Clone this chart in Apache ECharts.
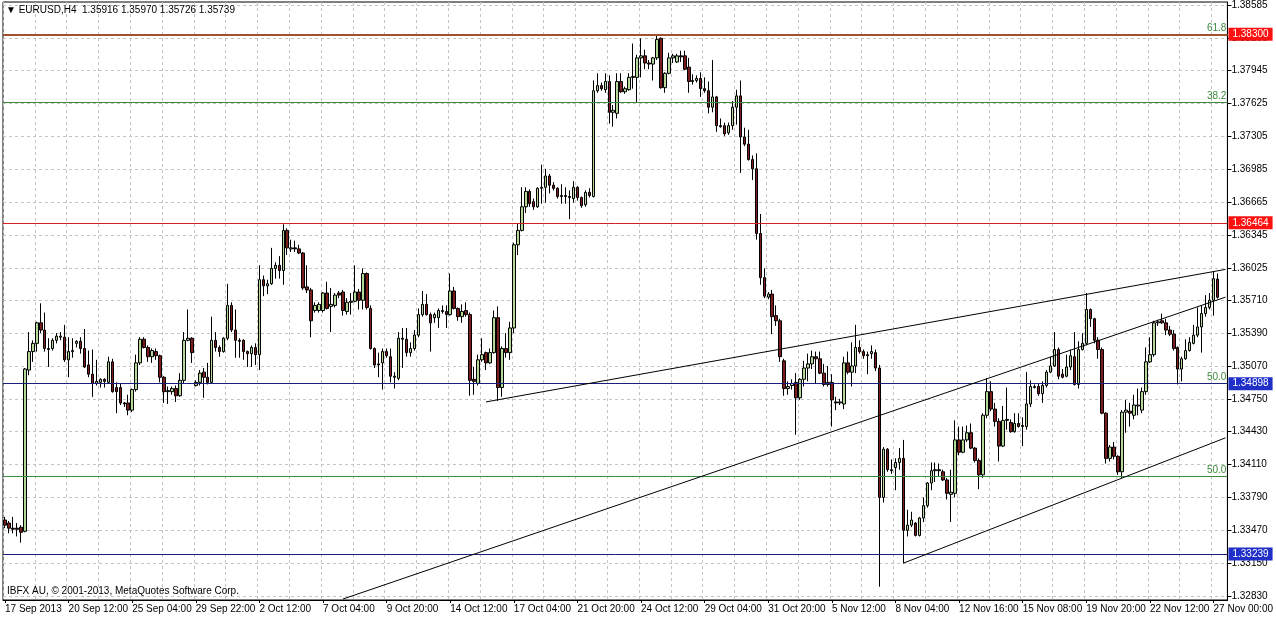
<!DOCTYPE html>
<html>
<head>
<meta charset="utf-8">
<script src="https://cdn.jsdelivr.net/npm/echarts/dist/echarts.min.js"></script>
<style>
html,body{margin:0;padding:0;background:#fff;}
#c{width:1276px;height:619px;}
</style>
</head>
<body>
<div id="c"></div>
<script>
// ---- data (EURUSD H4) ----
const tickLabels = ['17 Sep 2013','20 Sep 12:00','25 Sep 04:00','29 Sep 22:00','2 Oct 12:00','7 Oct 04:00','9 Oct 20:00','14 Oct 12:00','17 Oct 04:00','21 Oct 20:00','24 Oct 12:00','29 Oct 04:00','31 Oct 20:00','5 Nov 12:00','8 Nov 04:00','12 Nov 16:00','15 Nov 08:00','19 Nov 20:00','22 Nov 12:00','27 Nov 00:00'];
const priceTicks = [1.32830,1.33150,1.33470,1.33790,1.34110,1.34430,1.34750,1.35070,1.35390,1.35710,1.36025,1.36345,1.36665,1.36985,1.37305,1.37625,1.37945,1.38265,1.38585];

const opens = [1.3357,1.3354,1.3349,1.3349,1.3350,1.3346,1.3503,1.3521,1.3529,1.3549,1.3542,1.3524,1.3524,1.3532,1.3535,1.3535,1.3513,1.3521,1.3529,1.3531,
1.3524,1.3508,1.3499,1.3490,1.3491,1.3494,1.3491,1.3511,1.3486,1.3486,1.3471,1.3471,1.3464,1.3484,1.3510,1.3533,1.3525,1.3516,1.3521,1.3517,
1.3496,1.3482,1.3482,1.3485,1.3478,1.3493,1.3532,1.3534,1.3488,1.3491,1.3501,1.3496,1.3491,1.3532,1.3525,1.3521,1.3534,1.3566,1.3542,1.3532,
1.3532,1.3521,1.3519,1.3525,1.3518,1.3591,1.3585,1.3587,1.3602,1.3605,1.3600,1.3639,1.3621,1.3622,1.3621,1.3617,1.3584,1.3581,1.3561,1.3561,
1.3561,1.3578,1.3565,1.3566,1.3578,1.3579,1.3560,1.3569,1.3570,1.3579,1.3571,1.3597,1.3563,1.3524,1.3509,1.3510,1.3521,1.3516,1.3497,1.3495,
1.3534,1.3533,1.3520,1.3524,1.3537,1.3557,1.3567,1.3557,1.3554,1.3554,1.3561,1.3560,1.3557,1.3580,1.3563,1.3555,1.3561,1.3557,1.3494,1.3490,
1.3513,1.3520,1.3510,1.3520,1.3554,1.3486,1.3524,1.3520,1.3544,1.3625,1.3639,1.3662,1.3677,1.3667,1.3662,1.3680,1.3681,1.3692,1.3683,1.3680,
1.3672,1.3673,1.3672,1.3670,1.3681,1.3671,1.3664,1.3676,1.3672,1.3775,1.3780,1.3776,1.3784,1.3754,1.3753,1.3784,1.3774,1.3776,1.3788,1.3788,
1.3807,1.3809,1.3802,1.3801,1.3807,1.3826,1.3778,1.3792,1.3807,1.3803,1.3809,1.3809,1.3798,1.3784,1.3785,1.3787,1.3777,1.3775,1.3759,1.3769,
1.3741,1.3741,1.3734,1.3741,1.3759,1.3770,1.3730,1.3723,1.3708,1.3699,1.3636,1.3593,1.3574,1.3577,1.3556,1.3551,1.3512,1.3485,1.3488,1.3491,
1.3476,1.3494,1.3505,1.3509,1.3516,1.3514,1.3500,1.3489,1.3491,1.3472,1.3471,1.3470,1.3510,1.3501,1.3507,1.3525,1.3521,1.3517,1.3519,1.3520,
1.3505,1.3379,1.3426,1.3405,1.3408,1.3413,1.3417,1.3347,1.3352,1.3354,1.3342,1.3359,1.3371,1.3393,1.3405,1.3406,1.3404,1.3396,1.3382,1.3383,
1.3435,1.3423,1.3435,1.3442,1.3427,1.3415,1.3401,1.3459,1.3482,1.3465,1.3453,1.3429,1.3454,1.3452,1.3443,1.3451,1.3448,1.3448,1.3470,1.3486,
1.3487,1.3480,1.3488,1.3501,1.3507,1.3523,1.3499,1.3497,1.3506,1.3516,1.3489,1.3523,1.3529,1.3562,1.3553,1.3532,1.3523,1.3461,1.3417,1.3428,
1.3419,1.3404,1.3462,1.3463,1.3459,1.3468,1.3464,1.3482,1.3511,1.3518,1.3549,1.3551,1.3549,1.3542,1.3538,1.3525,1.3504,1.3514,1.3522,1.3529,
1.3537,1.3545,1.3558,1.3564,1.3571,1.35916];

const closes = [1.3352,1.3349,1.3348,1.3348,1.3345,1.3504,1.3521,1.3529,1.3549,1.3542,1.3524,1.3523,1.3532,1.3536,1.3536,1.3513,1.3521,1.3522,1.3531,1.3524,
1.3506,1.3499,1.3490,1.3492,1.3494,1.3492,1.3511,1.3482,1.3482,1.3471,1.3470,1.3464,1.3484,1.3510,1.3533,1.3525,1.3516,1.3522,1.3517,1.3496,
1.3482,1.3483,1.3485,1.3478,1.3493,1.3532,1.3534,1.3520,1.3491,1.3500,1.3496,1.3491,1.3532,1.3525,1.3521,1.3534,1.3566,1.3542,1.3532,1.3531,
1.3521,1.3519,1.3525,1.3518,1.3591,1.3585,1.3587,1.3602,1.3605,1.3600,1.3639,1.3622,1.3622,1.3621,1.3617,1.3583,1.3581,1.3551,1.3566,1.3567,
1.3578,1.3563,1.3567,1.3576,1.3576,1.3561,1.3569,1.3570,1.3579,1.3571,1.3597,1.3564,1.3524,1.3508,1.3508,1.3521,1.3517,1.3497,1.3496,1.3534,
1.3533,1.3520,1.3524,1.3537,1.3557,1.3567,1.3557,1.3549,1.3557,1.3561,1.3560,1.3557,1.3580,1.3563,1.3555,1.3560,1.3557,1.3493,1.3492,1.3513,
1.3518,1.3510,1.3520,1.3554,1.3486,1.3524,1.3520,1.3544,1.3625,1.3639,1.3662,1.3677,1.3665,1.3662,1.3680,1.3681,1.3692,1.3683,1.3680,1.3672,
1.3673,1.3672,1.3671,1.3681,1.3671,1.3663,1.3676,1.3673,1.3775,1.3780,1.3777,1.3784,1.3754,1.3756,1.3784,1.3774,1.3777,1.3788,1.3789,1.3807,
1.3809,1.3802,1.3801,1.3807,1.3825,1.3778,1.3792,1.3807,1.3809,1.3809,1.3808,1.3796,1.3784,1.3785,1.3787,1.3777,1.3775,1.3759,1.3769,1.3741,
1.3740,1.3733,1.3741,1.3759,1.3770,1.3730,1.3723,1.3708,1.3699,1.3636,1.3593,1.3575,1.3577,1.3555,1.3551,1.3516,1.3485,1.3487,1.3490,1.3476,
1.3494,1.3505,1.3509,1.3516,1.3514,1.3500,1.3489,1.3491,1.3474,1.3471,1.3472,1.3510,1.3501,1.3507,1.3525,1.3521,1.3517,1.3518,1.3521,1.3505,
1.3379,1.3426,1.3406,1.3406,1.3413,1.3417,1.3347,1.3352,1.3357,1.3342,1.3359,1.3371,1.3393,1.3405,1.3406,1.3405,1.3396,1.3383,1.3384,1.3435,
1.3423,1.3435,1.3442,1.3427,1.3415,1.3401,1.3459,1.3482,1.3465,1.3453,1.3429,1.3454,1.3455,1.3443,1.3451,1.3448,1.3449,1.3470,1.3487,1.3487,
1.3480,1.3488,1.3501,1.3507,1.3523,1.3497,1.3496,1.3506,1.3517,1.3489,1.3523,1.3529,1.3562,1.3553,1.3532,1.3523,1.3461,1.3417,1.3428,1.3419,
1.3404,1.3462,1.3464,1.3461,1.3469,1.3469,1.3482,1.3511,1.3518,1.3549,1.3550,1.3549,1.3542,1.3538,1.3524,1.3504,1.3514,1.3522,1.3530,1.3537,
1.3545,1.3558,1.3564,1.3571,1.3592,1.35739];

const lows = [1.3349,1.3344,1.3344,1.3341,1.3335,1.3345,1.3498,1.3511,1.3521,1.3539,1.3521,1.3506,1.3522,1.3529,1.3532,1.3511,1.3496,1.3515,1.3525,1.3519,
1.3505,1.3496,1.3477,1.3488,1.3486,1.3486,1.3490,1.3481,1.3461,1.3469,1.3467,1.3459,1.3462,1.3482,1.3508,1.3524,1.3511,1.3510,1.3513,1.3491,
1.3471,1.3470,1.3479,1.3472,1.3477,1.3490,1.3531,1.3510,1.3487,1.3488,1.3476,1.3489,1.3490,1.3521,1.3516,1.3520,1.3532,1.3540,1.3515,1.3515,
1.3513,1.3506,1.3506,1.3508,1.3503,1.3575,1.3577,1.3586,1.3592,1.3592,1.3586,1.3615,1.3618,1.3618,1.3616,1.3581,1.3578,1.3535,1.3559,1.3559,
1.3559,1.3562,1.3540,1.3564,1.3573,1.3556,1.3557,1.3557,1.3569,1.3562,1.3562,1.3562,1.3523,1.3505,1.3496,1.3484,1.3515,1.3491,1.3485,1.3493,
1.3505,1.3516,1.3516,1.3522,1.3535,1.3555,1.3556,1.3521,1.3549,1.3544,1.3558,1.3544,1.3556,1.3562,1.3551,1.3549,1.3555,1.3478,1.3479,1.3488,
1.3511,1.3503,1.3509,1.3519,1.3473,1.3477,1.3515,1.3513,1.3539,1.3615,1.3638,1.3656,1.3662,1.3659,1.3661,1.3665,1.3666,1.3675,1.3678,1.3670,
1.3665,1.3665,1.3650,1.3666,1.3668,1.3661,1.3662,1.3671,1.3671,1.3773,1.3775,1.3773,1.3743,1.3740,1.3748,1.3773,1.3772,1.3775,1.3777,1.3764,
1.3788,1.3796,1.3796,1.3785,1.3805,1.3777,1.3773,1.3791,1.3802,1.3802,1.3803,1.3795,1.3773,1.3781,1.3783,1.3769,1.3773,1.3753,1.3754,1.3735,
1.3739,1.3731,1.3732,1.3737,1.3742,1.3695,1.3721,1.3707,1.3688,1.3630,1.3586,1.3573,1.3572,1.3538,1.3546,1.3511,1.3478,1.3479,1.3484,1.3440,
1.3474,1.3487,1.3492,1.3504,1.3490,1.3499,1.3487,1.3487,1.3448,1.3464,1.3469,1.3465,1.3499,1.3487,1.3500,1.3519,1.3514,1.3499,1.3514,1.3502,
1.3292,1.3374,1.3404,1.3402,1.3386,1.3406,1.3315,1.3341,1.3350,1.3341,1.3341,1.3355,1.3369,1.3386,1.3394,1.3399,1.3395,1.3377,1.3355,1.3379,
1.3420,1.3422,1.3433,1.3426,1.3413,1.3387,1.3398,1.3456,1.3463,1.3448,1.3414,1.3428,1.3445,1.3442,1.3442,1.3447,1.3429,1.3445,1.3467,1.3485,
1.3478,1.3471,1.3486,1.3500,1.3506,1.3494,1.3495,1.3496,1.3503,1.3488,1.3485,1.3522,1.3527,1.3545,1.3529,1.3514,1.3460,1.3412,1.3414,1.3416,
1.3401,1.3398,1.3442,1.3448,1.3455,1.3459,1.3461,1.3479,1.3510,1.3516,1.3546,1.3548,1.3537,1.3536,1.3522,1.3489,1.3492,1.3513,1.3521,1.3528,
1.3535,1.3520,1.3555,1.3562,1.3556,1.35726];

const highs = [1.3360,1.3356,1.3360,1.3354,1.3352,1.3505,1.3540,1.3532,1.3550,1.3568,1.3559,1.3534,1.3534,1.3539,1.3540,1.3547,1.3535,1.3534,1.3532,1.3535,
1.3543,1.3522,1.3523,1.3513,1.3495,1.3495,1.3516,1.3514,1.3491,1.3490,1.3472,1.3479,1.3485,1.3518,1.3535,1.3535,1.3527,1.3524,1.3524,1.3518,
1.3497,1.3487,1.3487,1.3488,1.3500,1.3540,1.3562,1.3535,1.3493,1.3503,1.3505,1.3510,1.3555,1.3540,1.3527,1.3535,1.3587,1.3569,1.3562,1.3534,
1.3533,1.3522,1.3527,1.3529,1.3605,1.3595,1.3591,1.3622,1.3608,1.3614,1.3645,1.3641,1.3630,1.3629,1.3625,1.3618,1.3605,1.3583,1.3569,1.3569,
1.3579,1.3589,1.3583,1.3578,1.3580,1.3581,1.3573,1.3578,1.3605,1.3582,1.3602,1.3598,1.3566,1.3525,1.3520,1.3524,1.3524,1.3524,1.3501,1.3540,
1.3544,1.3544,1.3530,1.3542,1.3563,1.3580,1.3577,1.3559,1.3559,1.3563,1.3566,1.3566,1.3597,1.3584,1.3564,1.3567,1.3569,1.3559,1.3506,1.3518,
1.3534,1.3521,1.3524,1.3561,1.3565,1.3526,1.3539,1.3550,1.3627,1.3646,1.3681,1.3681,1.3679,1.3670,1.3681,1.3703,1.3699,1.3694,1.3686,1.3681,
1.3684,1.3681,1.3678,1.3687,1.3682,1.3672,1.3678,1.3680,1.3785,1.3792,1.3783,1.3792,1.3790,1.3761,1.3792,1.3792,1.3779,1.3792,1.3821,1.3810,
1.3826,1.3815,1.3805,1.3808,1.3829,1.3827,1.3793,1.3812,1.3811,1.3811,1.3814,1.3814,1.3807,1.3791,1.3790,1.3793,1.3788,1.3784,1.3805,1.3770,
1.3748,1.3744,1.3744,1.3765,1.3776,1.3785,1.3739,1.3737,1.3712,1.3714,1.3655,1.3602,1.3579,1.3581,1.3566,1.3553,1.3514,1.3492,1.3494,1.3500,
1.3495,1.3512,1.3519,1.3522,1.3521,1.3521,1.3509,1.3507,1.3499,1.3477,1.3475,1.3516,1.3521,1.3530,1.3547,1.3532,1.3523,1.3521,1.3527,1.3523,
1.3508,1.3428,1.3427,1.3416,1.3417,1.3427,1.3435,1.3367,1.3365,1.3355,1.3360,1.3379,1.3394,1.3413,1.3413,1.3412,1.3406,1.3398,1.3406,1.3454,
1.3448,1.3448,1.3449,1.3451,1.3428,1.3417,1.3461,1.3495,1.3492,1.3471,1.3456,1.3468,1.3486,1.3455,1.3461,1.3461,1.3457,1.3501,1.3493,1.3489,
1.3490,1.3492,1.3503,1.3516,1.3540,1.3525,1.3504,1.3518,1.3523,1.3540,1.3531,1.3539,1.3578,1.3563,1.3554,1.3535,1.3525,1.3462,1.3430,1.3433,
1.3420,1.3464,1.3474,1.3471,1.3479,1.3485,1.3486,1.3525,1.3535,1.3551,1.3552,1.3558,1.3553,1.3546,1.3542,1.3526,1.3516,1.3533,1.3535,1.3547,
1.3564,1.3566,1.3576,1.3578,1.3599,1.35970];

// horizontal price levels (value, line colour, box colour)
const levelPrices = [1.38300, 1.36464, 1.34898, 1.33239];
const levelLineColors = ['#a0522d', '#d42020', '#1a1f7a', '#1a1f7a'];
const levelBoxColors = ['#ff1010', '#ff1010', '#1f2fc8', '#1f2fc8'];
const lastPrice = 1.35739;
// Fibonacci levels
const fibPrices = [1.38300, 1.37634, 1.34905, 1.33995];
const fibNames = ['61.8', '38.2', '50.0', '50.0'];
// trend lines: [startIndex, startPrice, endIndex, endPrice]
const trendLines = [
  [121, 1.3472, 307, 1.3601],
  [85, 1.3280, 307, 1.3574],
  [226, 1.3315, 307, 1.3437]
];

const NBARS = 308;
const categories = Array.from({length: NBARS}, (_, i) => String(i));
const candleData = opens.map((o, i) => [o, closes[i], lows[i], highs[i]]);

const FONT = '"Liberation Sans", Arial, sans-serif';
const markData = [];
fibPrices.forEach((p, i) => {
  markData.push({
    yAxis: p,
    lineStyle: {color: '#3d8a3d', width: 1, type: 'solid'},
    label: {show: true, position: 'insideEndTop', formatter: fibNames[i], color: '#3d8a3d',
            fontSize: 10, fontFamily: FONT, distance: [1, 1]}
  });
});
levelPrices.forEach((p, i) => {
  markData.push({
    yAxis: p,
    lineStyle: {color: levelLineColors[i], width: i === 0 ? 2 : 1, type: 'solid'},
    label: {show: true, position: 'end', distance: 1, formatter: p.toFixed(5),
            backgroundColor: levelBoxColors[i], color: '#fff', padding: [2, 4, 1, 4],
            fontSize: 10, fontFamily: FONT}
  });
});
markData.push({
  yAxis: lastPrice,
  lineStyle: {opacity: 0},
  label: {show: true, position: 'end', distance: 1, formatter: lastPrice.toFixed(5),
          backgroundColor: '#000', color: '#fff', padding: [2, 4, 1, 4],
          fontSize: 10, fontFamily: FONT}
});
trendLines.forEach(t => {
  markData.push([
    {coord: [t[0], t[1]], lineStyle: {color: '#000', width: 1, type: 'solid'}},
    {coord: [t[2], t[3]]}
  ]);
});

const chart = echarts.init(document.getElementById('c'), null, {renderer: 'canvas'});
chart.setOption({
  animation: false,
  backgroundColor: '#fff',
  title: [
    {text: '\u25BC EURUSD,H4  1.35916 1.35970 1.35726 1.35739', left: 6, top: 5, padding: 0,
     textStyle: {fontSize: 10, fontWeight: 'normal', color: '#000', fontFamily: FONT}},
    {text: 'IBFX AU, \u00A9 2001-2013, MetaQuotes Software Corp.', left: 7, top: 586, padding: 0,
     textStyle: {fontSize: 10, fontWeight: 'normal', color: '#000', fontFamily: FONT}}
  ],
  grid: {left: 3, top: 1, width: 1230, height: 599, show: true, borderColor: '#000', borderWidth: 1},
  xAxis: {
    type: 'category', data: categories, boundaryGap: true,
    axisLine: {show: true, lineStyle: {color: '#000'}},
    axisTick: {show: true, interval: 15, alignWithLabel: true, length: 3, lineStyle: {color: '#000'}},
    axisLabel: {interval: 15, align: 'left', margin: 4, fontSize: 10, color: '#000', fontFamily: FONT,
      formatter: (v, i) => (i % 16 === 0 && tickLabels[i / 16]) ? tickLabels[i / 16] : ''},
    splitLine: {show: true, interval: 7, lineStyle: {color: '#c4c4c4', type: [3, 3], width: 1}}
  },
  yAxis: {
    type: 'value', position: 'right', min: 1.32791, max: 1.38614, scale: true,
    axisLine: {show: true, lineStyle: {color: '#000'}},
    axisTick: {show: true, length: 4, customValues: priceTicks, lineStyle: {color: '#000'}},
    axisLabel: {customValues: priceTicks, formatter: v => v.toFixed(5), fontSize: 10, color: '#000',
                fontFamily: FONT, margin: 4},
    splitLine: {show: true, lineStyle: {color: '#c4c4c4', type: [3, 3], width: 1}}
  },
  series: [{
    type: 'candlestick',
    data: candleData,
    barWidth: 3,
    itemStyle: {color: '#b4d898', color0: '#7a1c1c', borderColor: '#000', borderColor0: '#000',
                borderColorDoji: '#000', borderWidth: 1},
    markLine: {symbol: ['none', 'none'], silent: true, animation: false, precision: 5,
               label: {show: false}, data: markData}
  }]
});
</script>
</body>
</html>
